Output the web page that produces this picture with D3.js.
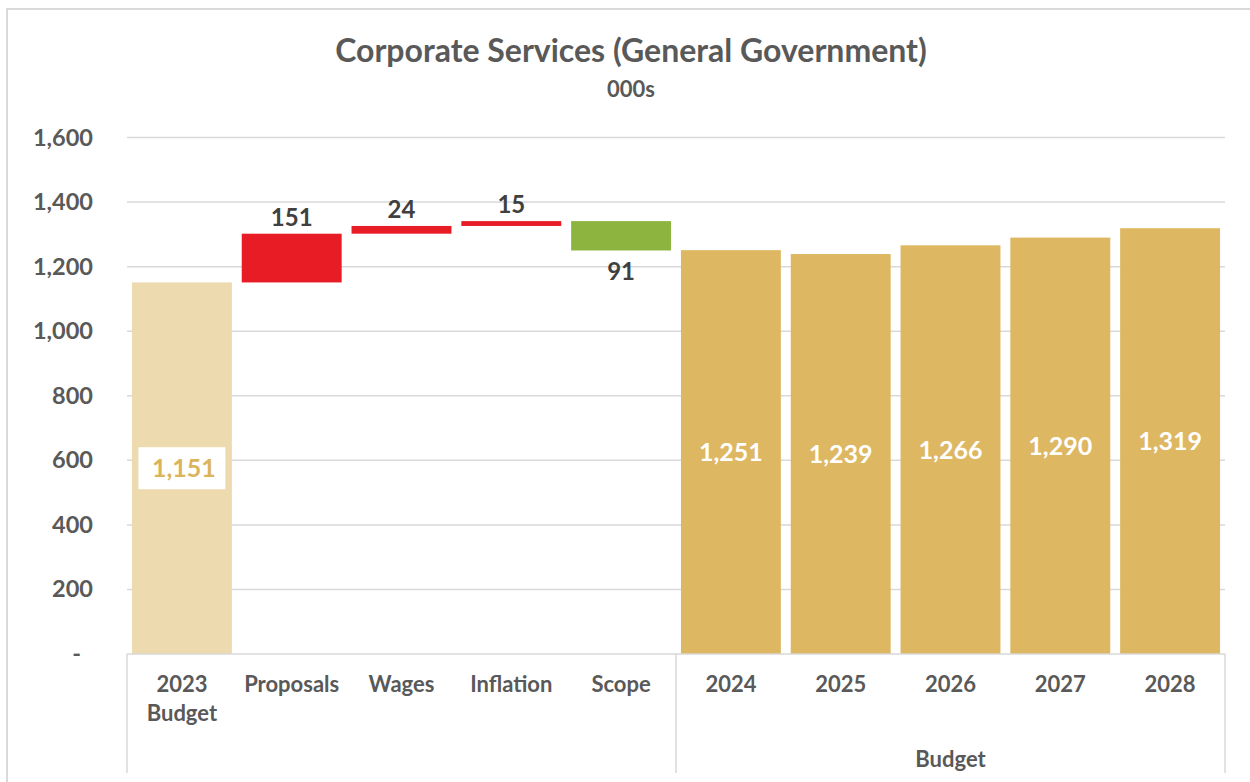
<!DOCTYPE html>
<html>
<head>
<meta charset="utf-8">
<script src="https://cdn.jsdelivr.net/npm/d3@7"></script>
<style>
  html, body { margin: 0; padding: 0; background: #ffffff; }
  svg { display: block; font-family: Lato, "Open Sans", sans-serif; font-weight: 700; }
</style>
</head>
<body>
<svg id="chart" width="1250" height="782"></svg>
<script>
// Waterfall: opening budget, movements, then forward budget years
const openingLabel = "2023 Budget";
const openingValue = 1151;
const changeLabels = ["Proposals", "Wages", "Inflation", "Scope"];
const changeValues = [151, 24, 15, -91];
const budgetYears = ["2024", "2025", "2026", "2027", "2028"];
const budgetValues = [1251, 1239, 1266, 1290, 1319];
const yTicks = [0, 200, 400, 600, 800, 1000, 1200, 1400, 1600];
const groupLabel = "Budget";
const titleText = "Corporate Services (General Government)";
const subtitleText = "000s";

const colors = {
  opening: "#EDDAAE",
  budget: "#DDB762",
  increase: "#E81C25",
  decrease: "#8CB43E",
  grid: "#D9D9D9",
  text: "#595959",
  label: "#404040",
  openingLabel: "#DAB45B"
};

// Build rows with floating start/end for the movements
const rows = [];
rows.push({ name: openingLabel, kind: "opening", start: 0, end: openingValue, value: openingValue });
let running = openingValue;
changeLabels.forEach((name, i) => {
  const v = changeValues[i];
  rows.push({ name, kind: v >= 0 ? "increase" : "decrease", start: running, end: running + v, value: v });
  running += v;
});
budgetYears.forEach((name, i) => {
  rows.push({ name, kind: "budget", start: 0, end: budgetValues[i], value: budgetValues[i] });
});

const svg = d3.select("#chart");
const plot = { left: 127, right: 1225, top: 137.5, bottom: 654 };

// Outer chart frame
svg.append("rect")
  .attr("x", 7).attr("y", 9)
  .attr("width", 1270).attr("height", 800)
  .attr("fill", "none")
  .attr("stroke", colors.grid)
  .attr("stroke-width", 2);

const x = d3.scaleBand()
  .domain(rows.map(d => d.name))
  .range([plot.left, plot.right])
  .paddingInner(0.09)
  .paddingOuter(0.045);

const y = d3.scaleLinear()
  .domain([0, 1600])
  .range([plot.bottom, plot.top]);

// Title
svg.append("text")
  .attr("x", 631).attr("y", 62)
  .attr("text-anchor", "middle")
  .attr("font-size", 32)
  .attr("fill", colors.text)
  .text(titleText);

svg.append("text")
  .attr("x", 631).attr("y", 97)
  .attr("text-anchor", "middle")
  .attr("font-size", 22)
  .attr("fill", colors.text)
  .text(subtitleText);

// Gridlines
svg.append("g")
  .selectAll("line")
  .data(yTicks.filter(t => t > 0))
  .join("line")
  .attr("x1", plot.left).attr("x2", plot.right)
  .attr("y1", d => y(d)).attr("y2", d => y(d))
  .attr("stroke", colors.grid)
  .attr("stroke-width", 1.5);

// Y axis labels
const yAxis = d3.axisLeft(y)
  .tickValues(yTicks)
  .tickSize(0)
  .tickPadding(34)
  .tickFormat(d => d === 0 ? "-" : d3.format(",")(d));

const yg = svg.append("g")
  .attr("transform", `translate(${plot.left},0)`)
  .call(yAxis);
yg.select(".domain").remove();
yg.selectAll("text")
  .attr("font-size", 23.5)
  .attr("font-family", "Lato, sans-serif")
  .attr("font-weight", 700)
  .attr("fill", colors.text)
  .attr("dx", d => d === 0 ? -12 : 0);

// Bars
svg.append("g")
  .selectAll("rect")
  .data(rows)
  .join("rect")
  .attr("x", d => x(d.name))
  .attr("width", x.bandwidth())
  .attr("y", d => y(Math.max(d.start, d.end)))
  .attr("height", d => Math.abs(y(d.start) - y(d.end)))
  .attr("fill", d => colors[d.kind]);

// Category axis line and group separators
svg.append("line")
  .attr("x1", plot.left).attr("x2", plot.right)
  .attr("y1", plot.bottom).attr("y2", plot.bottom)
  .attr("stroke", colors.grid).attr("stroke-width", 1.5);

const groupStart = x(budgetYears[0]) - x.step() * x.paddingInner() / 2;
[plot.left, groupStart, plot.right].forEach(px => {
  svg.append("line")
    .attr("x1", px).attr("x2", px)
    .attr("y1", plot.bottom).attr("y2", 773)
    .attr("stroke", colors.grid).attr("stroke-width", 1.5);
});

// Category labels (wrapped on spaces)
const catG = svg.append("g");
rows.forEach(d => {
  const t = catG.append("text")
    .attr("x", x(d.name) + x.bandwidth() / 2)
    .attr("y", 692)
    .attr("text-anchor", "middle")
    .attr("font-size", 22)
    .attr("fill", colors.text);
  const parts = d.kind === "opening" ? d.name.split(" ") : [d.name];
  parts.forEach((p, i) => {
    t.append("tspan")
      .attr("x", x(d.name) + x.bandwidth() / 2)
      .attr("dy", i === 0 ? 0 : 29)
      .text(p);
  });
});

// Group label under the forward years
svg.append("text")
  .attr("x", (groupStart + plot.right) / 2)
  .attr("y", 767)
  .attr("text-anchor", "middle")
  .attr("font-size", 22)
  .attr("fill", colors.text)
  .text(groupLabel);

// Value labels
const fmt = d3.format(",");
const labelG = svg.append("g");

rows.forEach(d => {
  const cx = x(d.name) + x.bandwidth() / 2;
  if (d.kind === "budget") {
    labelG.append("text")
      .attr("x", cx)
      .attr("y", y(d.value / 2))
      .attr("dy", "0.36em")
      .attr("text-anchor", "middle")
      .attr("font-size", 25)
      .attr("fill", "#ffffff")
      .text(fmt(d.value));
  } else if (d.kind === "opening") {
    const cy = y(d.value / 2);
    labelG.append("rect")
      .attr("x", cx - 43.5).attr("y", cy - 21)
      .attr("width", 87).attr("height", 42)
      .attr("fill", "#ffffff");
    labelG.append("text")
      .attr("x", cx + 2)
      .attr("y", cy)
      .attr("dy", "0.36em")
      .attr("text-anchor", "middle")
      .attr("font-size", 25)
      .attr("fill", colors.openingLabel)
      .text(fmt(d.value));
  } else {
    const up = d.value >= 0;
    labelG.append("text")
      .attr("x", cx)
      .attr("y", up ? y(Math.max(d.start, d.end)) - 8 : y(Math.min(d.start, d.end)) + 12)
      .attr("dy", up ? "0" : "0.72em")
      .attr("text-anchor", "middle")
      .attr("font-size", 24)
      .attr("fill", colors.label)
      .text(fmt(Math.abs(d.value)));
  }
});
</script>
</body>
</html>
